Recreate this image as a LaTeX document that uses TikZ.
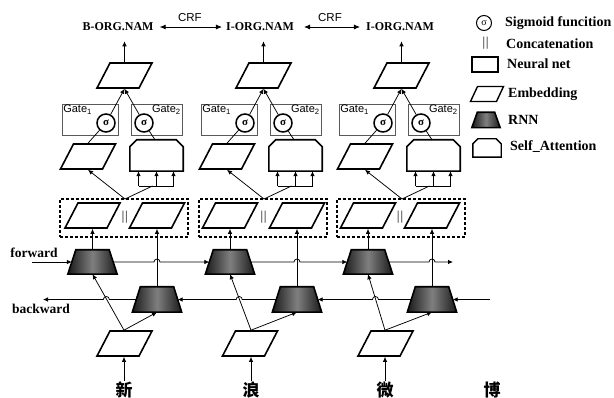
\documentclass[tikz,border=0pt]{standalone}
\usepackage{fontspec}
\setmainfont{Liberation Serif}
\newfontfamily\sansf{Liberation Sans}
\newfontfamily\cjkf{Noto Sans CJK SC}
\usetikzlibrary{arrows.meta,calc}
\tikzset{
  shp/.style={draw=black, line width=1.6pt, line join=miter},
  arr/.style={-{Latex[length=5pt,width=4.5pt]}, line width=0.75pt},
  ln/.style={line width=0.75pt},
  parashape/.style={shp, inner sep=0pt},
  emb/.style={parashape, xslant=0.52, minimum width=42pt, minimum height=25pt},
  ghost/.style={inner sep=0pt, draw=none},
  gatebox/.style={draw=black!65, line width=0.8pt, minimum height=31pt, inner sep=0pt},
  gtext/.style={font=\sansf\fontsize{11}{12}\selectfont, inner sep=1.5pt},
  sig/.style={circle, draw, line width=1.5pt, minimum size=18pt, inner sep=0pt, font=\bfseries\fontsize{11}{11}\selectfont},
  lab/.style={font=\bfseries\fontsize{12}{14}\selectfont, inner sep=2pt},
  crflab/.style={font=\sansf\fontsize{11.5}{12}\selectfont, inner sep=0pt},
  crf/.style={{Latex[length=6pt,width=5pt]}-{Latex[length=6pt,width=5pt]}, line width=0.8pt},
  leg/.style={anchor=west, font=\bfseries\fontsize{14}{15}\selectfont, inner sep=0pt},
  side/.style={font=\bfseries\fontsize{13.5}{15}\selectfont, inner sep=0pt},
  rnnfill/.style={left color=black!90, right color=black!90, middle color=black!50},
  dbox/.style={draw, line width=1.3pt, dash pattern=on 3pt off 2pt, inner sep=0pt},
  bars/.style={font=\sansf\fontsize{13}{13}\selectfont, text=black!60, inner sep=0pt},
  cjkch/.style={font=\cjkf\bfseries\fontsize{17}{17}\selectfont, inner sep=1pt},
}
\newcommand\rnnshape[2]{\shade[rnnfill,shp] (#1.south west) -- (#1.south east) -- ([xshift=-#2]#1.north east) -- ([xshift=#2]#1.north west) -- cycle;}
\newcommand\sashape[3]{\draw[#3] (#1.south west) -- (#1.south east) -- ([yshift=-#2]#1.north east) -- ([xshift=-#2]#1.north east) -- ([xshift=#2]#1.north west) -- ([yshift=-#2]#1.north west) -- cycle;}
\begin{document}
\begin{tikzpicture}[x=1pt,y=-1pt]
\useasboundingbox (0,0) rectangle (614,398);
% output labels
\node[lab] (lab1) at (118,27) {B-ORG.NAM};
\node[lab] (lab2) at (260,27) {I-ORG.NAM};
\node[lab] (lab3) at (400,27) {I-ORG.NAM};
\draw[crf, shorten <=4pt, shorten >=2pt] (lab1) -- (lab2) node[midway, above=5pt, crflab] {CRF};
\draw[crf, shorten <=8pt, shorten >=4pt] (lab2) -- (lab3) node[midway, above=5pt, crflab] {CRF};
% columns
\foreach \i/\X/\L/\R/\C/\E/\T in {1/0/92.5/157/124/124.5/新, 2/139/230/297/251/250/浪, 3/277/368/432/385/385.5/微}{
  \node[emb] (o\i) at ({124.5+\X},75.5) {};
  \draw[arr, shorten >=8pt] (o\i.north -| o\i.center) -- (o\i.center |- lab\i.south);
  \node[gatebox, minimum width=56pt] (ga\i) at ({90+\X},119.5) {};
  \node[gatebox, minimum width=51pt] (gb\i) at ({156.5+\X},119.5) {};
  \node[gtext, anchor=north west] at (ga\i.north west) {Gate\textsubscript{1}};
  \node[gtext, anchor=north east] at (gb\i.north east) {Gate\textsubscript{2}};
  \node[sig] (sgA\i) at ({106+\X},123) {σ};
  \node[sig] (sgB\i) at ({144+\X},123) {σ};
  \coordinate (m\i) at (o\i.south -| o\i.center);
  \draw[arr] (sgA\i) -- (m\i);
  \draw[arr] (sgB\i) -- (m\i);
  \node[emb] (le\i) at ({88+\X},156.5) {};
  \draw[ln] (le\i.north -| le\i.center) -- (sgA\i);
  \node[ghost, minimum width=53pt, minimum height=31pt] (at\i) at ({156.5+\X},155.5) {};
  \sashape{at\i}{7pt}{shp}
  \draw[ln] ([xshift=-1.5pt]at\i.north) -- (sgB\i);
  \coordinate (sb\i) at ({156.5+\X},186);
  \draw[ln] ([xshift=-18pt]sb\i) -- ([xshift=17pt]sb\i);
  \foreach \d in {-18,0,17} {\draw[arr] ([xshift=\d pt]sb\i) -- ([xshift=\d pt]at\i.south);}
  \coordinate (cp\i) at ({125+\X},199);
  \draw[arr] (cp\i) -- (le\i.south -| le\i.center);
  \draw[ln] (cp\i) -- ([xshift=-4pt]sb\i);
  \node[dbox, minimum width=128pt, minimum height=38pt] (db\i) at ({124+\X},218) {};
  \node[emb] (eL\i) at (\L,215.5) {};
  \node[emb] (eR\i) at (\R,215.5) {};
  \node[bars] at ({(\L+\R)/2},217) {||};
  \node[ghost, minimum width=49pt, minimum height=24pt] (f\i) at (\L,262) {};
  \rnnshape{f\i}{8pt}
  \node[ghost, minimum width=49pt, minimum height=25pt] (b\i) at (\R,299.5) {};
  \rnnshape{b\i}{8pt}
  \draw[arr] (f\i.north) -- (f\i.north |- eL\i.south);
  \draw[arr] (b\i.north) -- (b\i.north |- eR\i.south);
  \coordinate (hf\i) at (b\i.north |- f\i.west);
  \node[emb] (in\i) at (\E,343.5) {};
  \node[cjkch] (ch\i) at (\C,390) {\T};
  \coordinate (ip\i) at (ch\i |- in\i.north);
  \draw[arr] (ch\i) -- (ch\i |- in\i.south);
  \draw[arr] (ip\i) -- (f\i.south);
  \draw[arr] (ip\i) -- (b\i.south);
  \coordinate (hb\i) at ($(ip\i)!0.561!(f\i.south)$);
  \coordinate (hbb\i) at (hb\i |- b\i.west);
}
\node[cjkch] (ch4) at (492,390) {博};
% forward chain
\node[side] (fwd) at (34,253) {forward};
\node[side] (bwd) at (41,309) {backward};
\coordinate (fs) at (32,262);
\coordinate (fe) at (453,262);
\draw[arr] (fs) -- ([xshift=4pt]f1.west);
\draw[arr] ([xshift=-4pt]f1.east) -- ([xshift=-3pt]hf1) arc[start angle=180,end angle=0,radius=3pt] -- ([xshift=4pt]f2.west);
\draw[arr] ([xshift=-4pt]f2.east) -- ([xshift=-3pt]hf2) arc[start angle=180,end angle=0,radius=3pt] -- ([xshift=4pt]f3.west);
\draw[arr] ([xshift=-4pt]f3.east) -- ([xshift=-3pt]hf3) arc[start angle=180,end angle=0,radius=3pt] -- (fe);
% backward chain
\coordinate (bs) at (490,299.5);
\coordinate (be) at (43,299.5);
\draw[arr] (bs) -- ([xshift=-4pt]b3.east);
\draw[arr] ([xshift=4pt]b3.west) -- ([xshift=3pt]hbb3) arc[start angle=0,end angle=180,radius=3pt] -- ([xshift=-4pt]b2.east);
\draw[arr] ([xshift=4pt]b2.west) -- ([xshift=3pt]hbb2) arc[start angle=0,end angle=180,radius=3pt] -- ([xshift=-4pt]b1.east);
\draw[arr] ([xshift=4pt]b1.west) -- ([xshift=3pt]hbb1) arc[start angle=0,end angle=180,radius=3pt] -- (be);
% legend
\node[circle, draw, line width=1pt, minimum size=15pt, inner sep=0pt, font=\fontsize{10}{10}\selectfont] (k1) at (484,23) {σ};
\node[leg] (t1) at (505,23) {Sigmoid funcition};
\node[bars] (k2) at (485.5,43) {||};
\node[leg] (t2) at (506,44) {Concatenation};
\node[shp, minimum width=26pt, minimum height=15pt, inner sep=0pt] (k3) at (485,64.5) {};
\node[leg] (t3) at (507,64) {Neural net};
\node[parashape, line width=1.4pt, xslant=0.47, minimum width=26pt, minimum height=15pt] (k4) at (487,94) {};
\node[leg] (t4) at (508,94) {Embedding};
\node[ghost, minimum width=28pt, minimum height=15pt] (k5) at (486,120) {};
\rnnshape{k5}{5.5pt}
\node[leg] (t5) at (508,120) {RNN};
\node[ghost, minimum width=28pt, minimum height=18pt] (k6) at (487,148) {};
\sashape{k6}{5pt}{shp, line width=1.4pt}
\node[leg] (t6) at (510,147) {Self\_Attention};
\end{tikzpicture}
\end{document}
